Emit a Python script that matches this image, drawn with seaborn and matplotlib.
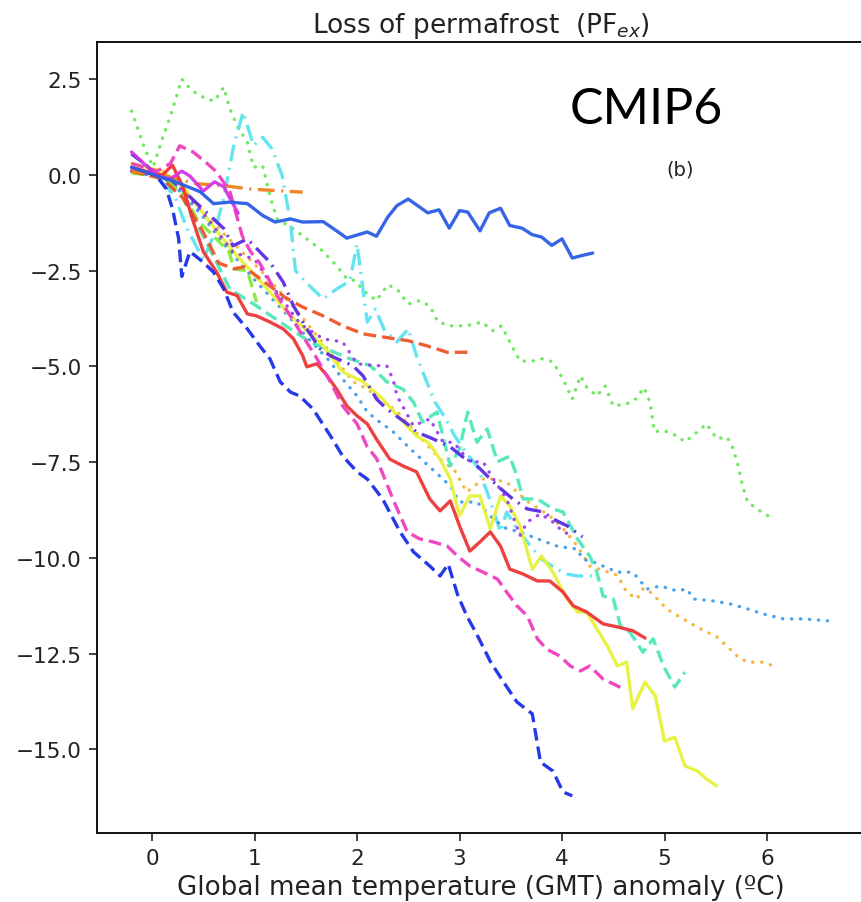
import matplotlib
matplotlib.use("Agg")
import matplotlib.pyplot as plt
import seaborn as sns
import pandas as pd

# ---------------- data ----------------
blue_solid_x = [-0.2, 0.05, 0.2, 0.34, 0.47, 0.6, 0.76, 0.93, 1.08, 1.2, 1.35, 1.47, 1.67, 1.8, 1.9, 2.1, 2.19, 2.3, 2.39, 2.5, 2.69, 2.8, 2.9, 3.0, 3.08, 3.2, 3.29, 3.4, 3.49, 3.61, 3.71, 3.8, 3.9, 4.0, 4.1, 4.2, 4.3]
blue_solid_y = [0.2, -0.03, -0.15, -0.3, -0.44, -0.75, -0.71, -0.75, -1.06, -1.23, -1.15, -1.23, -1.22, -1.46, -1.65, -1.49, -1.6, -1.1, -0.8, -0.63, -0.99, -0.91, -1.39, -0.93, -0.97, -1.46, -0.99, -0.87, -1.32, -1.39, -1.56, -1.62, -1.84, -1.67, -2.17, -2.1, -2.04]

green_dotted_x = [-0.2, -0.07, 0.01, 0.1, 0.18, 0.29, 0.39, 0.53, 0.61, 0.7, 0.76, 0.83, 0.93, 0.99, 1.08, 1.15, 1.22, 1.38, 1.51, 1.67, 1.8, 1.9, 1.98, 2.08, 2.19, 2.3, 2.39, 2.5, 2.61, 2.71, 2.79, 2.91, 3.07, 3.22, 3.32, 3.41, 3.49, 3.59, 3.71, 3.81, 3.91, 4.01, 4.1, 4.18, 4.24, 4.34, 4.42, 4.5, 4.63, 4.72, 4.8, 4.86, 4.9, 5.0, 5.12, 5.2, 5.32, 5.41, 5.51, 5.61, 5.67, 5.72, 5.76, 5.81, 5.93, 6.06]
green_dotted_y = [1.67, 0.68, 0.21, 0.94, 1.54, 2.5, 2.2, 1.98, 1.93, 2.29, 1.72, 1.28, 0.85, 0.2, 0.24, -0.55, -1.15, -1.41, -1.67, -2.0, -2.37, -2.71, -2.76, -3.06, -3.28, -2.87, -2.98, -3.37, -3.28, -3.42, -3.84, -3.94, -3.94, -3.84, -4.07, -3.94, -4.36, -4.86, -4.86, -4.8, -4.88, -5.33, -5.85, -5.25, -5.54, -5.77, -5.51, -6.03, -5.98, -5.85, -5.55, -5.95, -6.7, -6.68, -6.81, -6.97, -6.71, -6.5, -6.89, -6.84, -7.15, -7.6, -8.1, -8.54, -8.77, -8.98]

cyan_dashdot_x = [-0.2, 0.05, 0.22, 0.34, 0.5, 0.6, 0.7, 0.8, 0.89, 0.99, 1.08, 1.17, 1.27, 1.35, 1.4, 1.5, 1.67, 1.8, 1.93, 2.0, 2.1, 2.18, 2.27, 2.39, 2.5, 2.58, 2.68, 2.76, 2.85, 2.95, 3.05, 3.17, 3.27, 3.4, 3.46, 3.55, 3.66, 3.8, 3.95, 4.05, 4.15, 4.3]
cyan_dashdot_y = [0.1, -0.05, -0.54, -1.4, -2.2, -1.6, -0.6, 0.8, 1.64, 0.77, 0.98, 0.68, -0.02, -1.23, -2.5, -2.8, -3.24, -2.98, -2.77, -1.8, -3.84, -3.5, -4.07, -4.36, -4.02, -4.72, -5.4, -5.93, -6.3, -6.8, -7.2, -7.6, -8.28, -9.32, -8.8, -9.2, -9.58, -10.03, -10.29, -10.42, -10.47, -10.47]

orange_dashdot_x = [-0.2, 0.1, 0.3, 0.44, 0.7, 0.96, 1.22, 1.47]
orange_dashdot_y = [0.1, 0.0, -0.15, -0.23, -0.28, -0.37, -0.41, -0.45]

redorange_dashed_x = [-0.2, 0.1, 0.3, 0.5, 0.65, 0.8, 0.9, 1.1, 1.3, 1.47, 1.67, 1.86, 2.06, 2.25, 2.5, 2.68, 2.88, 3.08]
redorange_dashed_y = [0.1, -0.1, -0.6, -1.5, -2.3, -2.45, -2.4, -2.8, -3.2, -3.45, -3.68, -3.94, -4.15, -4.23, -4.33, -4.46, -4.63, -4.63]

red_solid_x = [-0.2, 0.0, 0.1, 0.2, 0.3, 0.4, 0.5, 0.63, 0.73, 0.83, 0.93, 1.02, 1.15, 1.28, 1.38, 1.47, 1.51, 1.61, 1.71, 1.8, 1.9, 2.0, 2.1, 2.19, 2.32, 2.45, 2.58, 2.71, 2.81, 2.91, 3.0, 3.1, 3.2, 3.3, 3.4, 3.49, 3.62, 3.76, 3.88, 4.01, 4.11, 4.24, 4.4, 4.54, 4.69, 4.81]
red_solid_y = [0.2, 0.05, 0.0, 0.25, -0.3, -1.2, -2.0, -2.54, -3.06, -3.15, -3.63, -3.68, -3.84, -4.02, -4.28, -4.72, -5.01, -4.93, -5.25, -5.59, -6.03, -6.29, -6.5, -6.9, -7.42, -7.6, -7.75, -8.46, -8.77, -8.51, -9.16, -9.82, -9.58, -9.32, -9.69, -10.29, -10.42, -10.6, -10.6, -10.89, -11.25, -11.41, -11.72, -11.8, -11.9, -12.09]

blue_dashed_x = [-0.2, -0.05, 0.05, 0.14, 0.2, 0.26, 0.29, 0.37, 0.5, 0.6, 0.7, 0.79, 0.93, 1.05, 1.15, 1.25, 1.35, 1.44, 1.57, 1.74, 1.86, 2.0, 2.1, 2.25, 2.42, 2.55, 2.71, 2.81, 2.89, 2.98, 3.07, 3.17, 3.3, 3.42, 3.56, 3.71, 3.79, 3.91, 4.01, 4.1]
blue_dashed_y = [0.55, 0.24, -0.05, -0.37, -0.89, -1.67, -2.65, -2.0, -2.28, -2.54, -2.98, -3.58, -4.02, -4.46, -4.8, -5.4, -5.67, -5.77, -6.11, -6.81, -7.34, -7.75, -7.94, -8.46, -9.32, -9.84, -10.21, -10.47, -10.16, -10.95, -11.51, -12.0, -12.7, -13.2, -13.76, -14.07, -15.33, -15.56, -16.11, -16.21]

magenta_dashed_x = [-0.2, 0.05, 0.18, 0.27, 0.4, 0.52, 0.63, 0.76, 0.88, 0.96, 1.05, 1.12, 1.22, 1.35, 1.47, 1.61, 1.74, 1.86, 2.0, 2.1, 2.19, 2.35, 2.49, 2.61, 2.74, 2.88, 2.98, 3.1, 3.23, 3.37, 3.46, 3.56, 3.66, 3.76, 3.85, 3.98, 4.08, 4.18, 4.27, 4.4, 4.54, 4.6]
magenta_dashed_y = [0.3, 0.1, 0.3, 0.76, 0.6, 0.34, 0.08, -0.44, -1.59, -2.0, -2.3, -2.63, -3.15, -3.68, -4.2, -4.8, -5.4, -6.03, -6.5, -7.1, -7.4, -8.46, -9.32, -9.5, -9.58, -9.69, -9.95, -10.21, -10.37, -10.55, -10.89, -11.25, -11.51, -12.11, -12.38, -12.56, -12.82, -12.95, -12.82, -13.16, -13.34, -13.42]

magenta_solid_x = [-0.2, 0.05, 0.18, 0.29, 0.37, 0.5, 0.61, 0.7, 0.78, 0.84]
magenta_solid_y = [0.6, -0.03, -0.1, 0.1, -0.03, -0.42, -0.18, -0.31, -0.71, -1.0]

indigo_dashdot_x = [-0.2, 0.1, 0.3, 0.5, 0.7, 0.79, 0.93, 1.15, 1.28, 1.38, 1.51, 1.64, 1.74, 1.96, 2.06, 2.19, 2.29, 2.49, 2.58, 2.74, 2.91, 3.03, 3.13, 3.23, 3.37, 3.52, 3.66, 3.82, 3.91, 4.05, 4.2]
indigo_dashdot_y = [0.1, -0.05, -0.4, -0.9, -1.4, -1.85, -1.67, -2.28, -2.8, -3.42, -4.02, -4.54, -4.72, -4.98, -5.25, -5.85, -6.11, -6.5, -6.71, -6.89, -7.1, -7.36, -7.49, -7.75, -8.12, -8.46, -8.72, -8.8, -8.98, -9.16, -9.45]

purple_dotted_x = [-0.2, 0.1, 0.3, 0.5, 0.79, 1.0, 1.2, 1.45, 1.67, 1.86, 2.0, 2.19, 2.29, 2.35, 2.39, 2.55, 2.71, 2.84, 2.94, 3.1, 3.23, 3.33, 3.46, 3.59, 3.66, 3.79, 3.91, 4.01, 4.1]
purple_dotted_y = [0.1, 0.0, -0.4, -1.0, -2.02, -2.2, -3.0, -3.9, -4.28, -4.36, -4.93, -4.98, -4.98, -5.33, -5.77, -6.55, -6.37, -6.98, -6.98, -7.49, -7.49, -7.94, -8.46, -9.42, -9.06, -8.85, -9.06, -9.32, -9.4]

lightblue_dotted_x = [-0.2, 0.1, 0.3, 0.5, 0.7, 1.02, 1.3, 1.5, 1.74, 1.85, 2.0, 2.1, 2.22, 2.35, 2.5, 2.7, 2.91, 3.0, 3.17, 3.33, 3.46, 3.59, 3.76, 3.95, 4.15, 4.2, 4.3, 4.47, 4.54, 4.69, 4.83, 4.96, 5.12, 5.22, 5.28, 5.47, 5.64, 5.81, 5.96, 6.16, 6.35, 6.59]
lightblue_dotted_y = [0.1, 0.0, -0.5, -1.1, -1.8, -2.8, -3.6, -4.2, -4.88, -5.3, -5.77, -6.19, -6.45, -6.7, -7.1, -7.6, -8.12, -8.54, -8.54, -8.98, -9.24, -9.32, -9.5, -9.69, -9.77, -10.03, -10.1, -10.29, -10.37, -10.37, -10.81, -10.73, -10.86, -10.81, -11.07, -11.12, -11.2, -11.33, -11.46, -11.59, -11.59, -11.64]

orange_dotted_x = [-0.2, 0.1, 0.3, 0.5, 0.8, 1.1, 1.4, 1.7, 1.96, 2.1, 2.4, 2.6, 2.81, 2.95, 3.07, 3.25, 3.46, 3.65, 3.88, 4.0, 4.15, 4.27, 4.54, 4.63, 4.73, 4.79, 4.83, 4.93, 5.02, 5.18, 5.35, 5.51, 5.64, 5.74, 5.83, 5.96, 6.1]
orange_dotted_y = [0.1, 0.0, -0.4, -1.0, -1.8, -2.6, -3.5, -4.5, -5.4, -5.59, -6.2, -6.8, -7.42, -7.7, -8.28, -7.9, -8.02, -8.5, -8.9, -9.2, -9.69, -10.21, -10.45, -10.89, -11.07, -10.81, -10.81, -11.07, -11.33, -11.59, -11.85, -12.06, -12.38, -12.64, -12.72, -12.72, -12.85]

yellow_solid_x = [-0.2, 0.1, 0.3, 0.5, 0.7, 0.86, 1.1, 1.35, 1.67, 1.86, 2.06, 2.25, 2.4, 2.58, 2.7, 2.81, 2.91, 3.0, 3.1, 3.2, 3.3, 3.4, 3.49, 3.59, 3.71, 3.8, 3.91, 4.05, 4.15, 4.24, 4.34, 4.44, 4.54, 4.63, 4.69, 4.81, 4.91, 5.0, 5.1, 5.2, 5.32, 5.41, 5.51]
yellow_solid_y = [0.3, 0.1, -0.3, -1.0, -1.7, -2.2, -2.9, -3.68, -4.46, -5.14, -5.4, -5.85, -6.3, -6.81, -7.0, -7.42, -7.94, -8.9, -8.38, -8.38, -9.24, -8.38, -8.64, -9.16, -10.29, -9.95, -10.37, -11.07, -11.41, -11.41, -11.85, -12.29, -12.82, -12.72, -13.94, -13.24, -13.6, -14.78, -14.68, -15.43, -15.56, -15.77, -15.95]

teal_dashed_x = [-0.2, 0.1, 0.3, 0.5, 0.76, 1.02, 1.35, 1.54, 1.93, 2.13, 2.29, 2.45, 2.55, 2.64, 2.78, 2.91, 3.0, 3.08, 3.17, 3.27, 3.37, 3.49, 3.56, 3.62, 3.76, 3.91, 4.01, 4.15, 4.27, 4.34, 4.4, 4.5, 4.57, 4.66, 4.79, 4.89, 4.99, 5.1, 5.2]
teal_dashed_y = [0.1, -0.1, -0.6, -1.6, -2.98, -3.42, -4.02, -4.36, -4.8, -4.98, -5.4, -5.6, -5.93, -6.45, -6.19, -7.6, -7.15, -6.19, -6.98, -6.63, -7.49, -7.34, -7.86, -8.46, -8.46, -8.72, -8.8, -9.5, -9.95, -10.37, -10.99, -11.07, -11.77, -11.93, -12.46, -12.11, -12.82, -13.37, -12.98]

lime_dashed_x = [-0.2, 0.1, 0.3, 0.45, 0.6, 0.75, 0.8, 0.93, 1.02]
lime_dashed_y = [0.05, -0.05, -0.5, -1.2, -1.6, -2.0, -2.45, -2.5, -3.32]

x_ticks = [0, 1, 2, 3, 4, 5, 6]
y_ticks = [2.5, 0.0, -2.5, -5.0, -7.5, -10.0, -12.5, -15.0]

title_text = "Loss of permafrost  (PF$_{ex}$)"
xlabel_text = "Global mean temperature (GMT) anomaly (\u00baC)"

# ---------------- styling ----------------
DOT = (0, (0.1, 2.6))
DASH = (0, (3.8, 1.8))
DASHDOT = (0, (5, 2, 0.6, 2))
series = [
    (green_dotted_x, green_dotted_y, "#66E855", DOT),
    (cyan_dashdot_x, cyan_dashdot_y, "#5CE3F0", DASHDOT),
    (orange_dotted_x, orange_dotted_y, "#F5B23A", DOT),
    (lightblue_dotted_x, lightblue_dotted_y, "#3F9BEA", DOT),
    (teal_dashed_x, teal_dashed_y, "#4FE8B8", DASH),
    (yellow_solid_x, yellow_solid_y, "#E6F23A", "-"),
    (purple_dotted_x, purple_dotted_y, "#9A3DEB", DOT),
    (indigo_dashdot_x, indigo_dashdot_y, "#5A2BE6", DASHDOT),
    (lime_dashed_x, lime_dashed_y, "#86EA35", DASH),
    (redorange_dashed_x, redorange_dashed_y, "#F0552A", DASH),
    (orange_dashdot_x, orange_dashdot_y, "#F07F1E", DASHDOT),
    (red_solid_x, red_solid_y, "#EE3535", "-"),
    (magenta_dashed_x, magenta_dashed_y, "#EE3DBE", DASH),
    (blue_dashed_x, blue_dashed_y, "#1A2EE8", DASH),
    (magenta_solid_x, magenta_solid_y, "#D633E6", "-"),
    (blue_solid_x, blue_solid_y, "#2B5CE6", "-"),
]

sns.set_style("ticks")
plt.rcParams["font.family"] = ["DejaVu Sans"]
plt.rcParams["axes.edgecolor"] = "#111111"
plt.rcParams["axes.linewidth"] = 1.4

fig = plt.figure(figsize=(8.62, 9.03), dpi=100)
# right edge deliberately outside the figure (as in the cropped reference)
AX_L, AX_R = 97, 890
ax = fig.add_axes([AX_L / 862, 1 - 834 / 903, (AX_R - AX_L) / 862, (834 - 43) / 903])

for xs, ys, col, ls in series:
    df = pd.DataFrame({"x": xs, "y": ys})
    sty = dict(dash_capstyle="round") if ls == DOT else {}
    sns.lineplot(data=df, x="x", y="y", ax=ax, color=col, linestyle=ls,
                 linewidth=2.4, estimator=None, sort=False, alpha=0.95, **sty)

ax.spines["right"].set_visible(False)
ax.set_xlim(-0.537, (AX_R - 152) / 102.5)
ax.set_ylim(-17.18, 3.47)
ax.set_xticks(x_ticks)
ax.set_yticks(y_ticks)
ax.set_xticklabels([str(t) for t in x_ticks])
ax.set_yticklabels([f"{t:.1f}".replace("-", "\u2212") for t in y_ticks])
ax.tick_params(axis="both", labelsize=15.5, length=6, width=1.2, pad=5, colors="#222222")
ax.set_xlabel(xlabel_text, fontsize=18.8, color="#222222", labelpad=4)
ax.xaxis.set_label_coords((481 - AX_L) / (AX_R - AX_L), -0.052)
ax.set_ylabel("")
ax.set_title(title_text, fontsize=19, color="#222222", pad=7,
             x=(481 - AX_L) / (AX_R - AX_L))

fig.text(0.661, 1 - 124 / 903, "CMIP6", fontsize=36, family=["Lato", "DejaVu Sans"],
         color="black", ha="left", va="baseline")
fig.text(0.789, 0.812, "(b)", fontsize=14, color="#222222", ha="center", va="center")

fig.savefig("out.png", dpi=100)
